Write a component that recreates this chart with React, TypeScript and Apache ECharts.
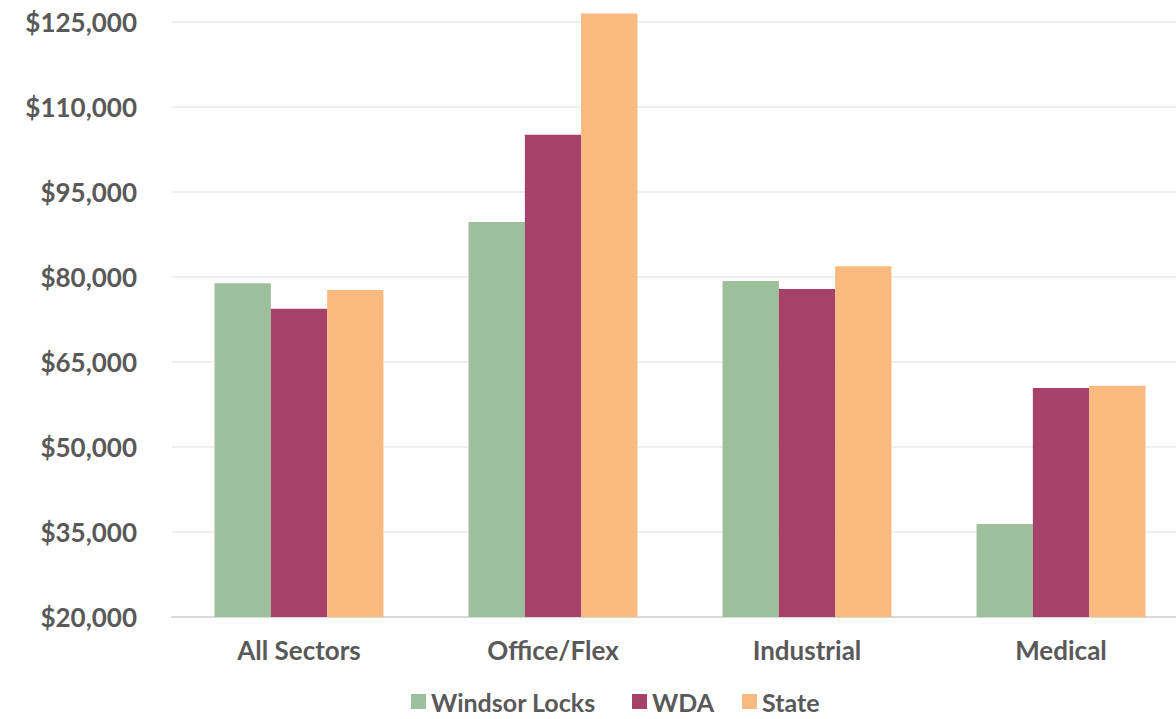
import React, { useEffect, useRef } from "react";
import * as echarts from "echarts";

const categories = ["All Sectors", "Office/Flex", "Industrial", "Medical"];
const seriesNames = ["Windsor Locks", "WDA", "State"];
const windsorLocks = [78900, 89700, 79300, 36400];
const wda = [74400, 105100, 77900, 60400];
const state = [77700, 126500, 81900, 60800];
const colors = ["#9DBF9C", "#A64169", "#FAB97E"];
const legendLefts = [411, 632, 742];

const FONT = "Lato, 'Open Sans', sans-serif";
const TEXT = "#595959";

export default function App() {
  const ref = useRef<HTMLDivElement>(null);
  useEffect(() => {
    if (!ref.current) return;
    const chart = echarts.init(ref.current, null, { renderer: "svg" });
    const values = [windsorLocks, wda, state];
    chart.setOption({
      animation: false,
      backgroundColor: "#ffffff",
      textStyle: { fontFamily: FONT },
      grid: { left: 172, right: 0, top: 5, bottom: 102, containLabel: false },
      legend: seriesNames.map((name, i) => ({
        left: legendLefts[i],
        top: 689,
        padding: 0,
        itemWidth: 15,
        itemHeight: 15,
        icon: "rect",
        data: [name],
        textStyle: { color: TEXT, fontSize: 25, lineHeight: 25, fontWeight: "bold", fontFamily: FONT },
      })),
      xAxis: {
        type: "category",
        data: categories,
        axisLine: { show: true, lineStyle: { color: "#D9D9D9", width: 2 } },
        axisTick: { show: false },
        axisLabel: { color: TEXT, fontSize: 26, fontWeight: "bold", fontFamily: FONT, margin: 20 },
      },
      yAxis: {
        type: "value",
        min: 20000,
        max: 128000,
        interval: 15000,
        axisLine: { show: false },
        axisTick: { show: false },
        splitLine: { show: true, showMaxLine: false, lineStyle: { color: "#EFEFEF", width: 2 } },
        axisLabel: {
          color: TEXT,
          fontSize: 26,
          fontWeight: "bold",
          fontFamily: FONT,
          margin: 35,
          showMaxLabel: false,
          formatter: (v: number) => (v % 5000 === 0 ? "$" + v.toLocaleString("en-US") : ""),
        },
      },
      series: seriesNames.map((name, i) => ({
        name,
        type: "bar",
        data: values[i],
        itemStyle: { color: colors[i] },
        barGap: "0%",
        barCategoryGap: "33.5%",
      })),
    });
    return () => chart.dispose();
  }, []);
  return (
    <div
      style={{ position: "absolute", left: 0, top: 0, width: 1176, height: 719, overflow: "hidden" }}
    >
      <div ref={ref} style={{ width: 1188, height: 719 }} />
    </div>
  );
}
